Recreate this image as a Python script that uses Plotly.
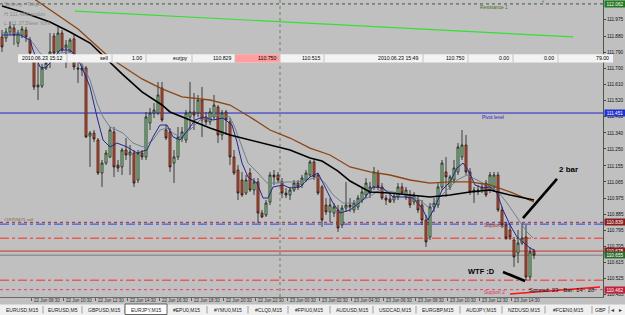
import plotly.graph_objects as go

# ---------------- data (EURJPY M15, 22 Jun 06:30 -> 23 Jun 15:45) ----------------
O = [111.877, 111.871, 111.905, 111.927, 111.843, 111.888, 111.916, 111.860, 111.759, 111.597,
     111.602, 111.703, 111.770, 111.882, 111.793, 111.899, 111.815, 111.793, 111.866, 111.703,
     111.703, 111.703, 111.322, 111.339, 111.300, 111.115, 111.171, 111.205, 111.345, 111.160,
     111.149, 111.244, 111.216, 111.227, 111.076, 111.227, 111.205, 111.395, 111.451, 111.451,
     111.591, 111.356, 111.345, 111.171, 111.205, 111.311, 111.300, 111.429, 111.457, 111.451,
     111.524, 111.429, 111.401, 111.429, 111.485, 111.328, 111.457, 111.401, 111.205, 111.132,
     111.076, 111.003, 111.115, 111.020, 111.065, 110.891, 110.880, 110.953, 111.104, 111.104,
     111.065, 111.003, 110.992, 111.020, 111.059, 111.048, 111.076, 111.104, 111.177, 111.104,
     111.037, 110.936, 110.897, 110.891, 110.908, 110.824, 110.919, 110.936, 110.908, 110.925,
     110.964, 110.992, 111.003, 111.037, 111.115, 111.037, 110.975, 110.970, 110.964, 110.981,
     111.037, 110.981, 110.992, 110.953, 110.964, 110.936, 110.852, 110.757, 110.925, 110.936,
     111.037, 111.121, 111.037, 111.076, 111.121, 111.205, 111.272, 111.121, 111.020, 111.009,
     111.020, 111.059, 111.020, 111.031, 111.104, 110.908, 110.824, 110.796, 110.740, 110.667,
     110.723, 110.757, 110.533, 110.678]
H = [111.916, 111.927, 111.961, 111.950, 111.916, 111.938, 111.933, 111.877, 111.776, 111.731,
     111.726, 111.759, 111.899, 111.899, 111.933, 111.916, 111.860, 111.871, 111.888, 111.748,
     111.726, 111.714, 111.350, 111.356, 111.311, 111.188, 111.244, 111.373, 111.373, 111.188,
     111.255, 111.311, 111.272, 111.244, 111.244, 111.244, 111.457, 111.479, 111.507, 111.625,
     111.625, 111.384, 111.367, 111.244, 111.373, 111.373, 111.468, 111.625, 111.563, 111.552,
     111.597, 111.457, 111.479, 111.552, 111.496, 111.468, 111.468, 111.423, 111.244, 111.160,
     111.121, 111.104, 111.143, 111.087, 111.087, 110.908, 110.964, 111.121, 111.132, 111.121,
     111.087, 111.031, 111.037, 111.076, 111.076, 111.104, 111.132, 111.188, 111.188, 111.115,
     111.048, 110.975, 110.975, 110.947, 110.936, 110.936, 111.065, 110.975, 110.964, 110.992,
     111.031, 111.087, 111.065, 111.149, 111.132, 111.059, 110.992, 111.003, 111.009, 111.059,
     111.059, 111.037, 111.020, 111.009, 110.992, 110.964, 110.880, 110.947, 110.975, 111.059,
     111.188, 111.205, 111.104, 111.188, 111.283, 111.356, 111.328, 111.143, 111.037, 111.048,
     111.059, 111.076, 111.121, 111.121, 111.121, 110.925, 110.841, 110.824, 110.757, 110.796,
     110.835, 110.824, 110.701, 110.690]
L = [111.793, 111.849, 111.888, 111.832, 111.821, 111.871, 111.849, 111.770, 111.580, 111.524,
     111.591, 111.692, 111.703, 111.765, 111.787, 111.793, 111.703, 111.787, 111.692, 111.619,
     111.658, 111.311, 111.149, 111.289, 111.104, 111.037, 111.160, 111.199, 111.093, 111.121,
     111.104, 111.188, 111.104, 111.037, 111.059, 111.188, 111.188, 111.356, 111.423, 111.440,
     111.401, 111.300, 111.121, 111.059, 111.188, 111.289, 111.283, 111.356, 111.356, 111.429,
     111.317, 111.384, 111.384, 111.412, 111.283, 111.300, 111.328, 111.160, 111.104, 110.964,
     110.981, 110.992, 111.009, 110.992, 110.835, 110.863, 110.869, 110.936, 111.048, 111.059,
     110.975, 110.975, 110.964, 111.009, 111.020, 111.031, 111.065, 111.093, 111.076, 110.992,
     110.813, 110.880, 110.841, 110.869, 110.785, 110.807, 110.897, 110.897, 110.891, 110.908,
     110.947, 110.975, 110.975, 111.020, 111.020, 110.964, 110.936, 110.947, 110.947, 110.964,
     110.992, 110.964, 110.919, 110.936, 110.891, 110.824, 110.701, 110.740, 110.897, 110.919,
     111.020, 110.981, 111.020, 111.059, 111.104, 111.188, 111.104, 110.992, 110.947, 110.992,
     111.003, 110.981, 111.003, 111.009, 110.897, 110.807, 110.740, 110.740, 110.589, 110.611,
     110.712, 110.516, 110.516, 110.634]
C = [111.821, 111.905, 111.933, 111.888, 111.899, 111.922, 111.877, 111.787, 111.597, 111.608,
     111.703, 111.731, 111.793, 111.787, 111.899, 111.804, 111.832, 111.860, 111.709, 111.698,
     111.692, 111.317, 111.339, 111.306, 111.115, 111.171, 111.227, 111.356, 111.149, 111.143,
     111.244, 111.216, 111.233, 111.059, 111.227, 111.205, 111.429, 111.451, 111.468, 111.552,
     111.412, 111.311, 111.149, 111.205, 111.317, 111.345, 111.451, 111.457, 111.440, 111.524,
     111.412, 111.401, 111.457, 111.496, 111.328, 111.451, 111.412, 111.205, 111.115, 111.003,
     110.992, 111.076, 111.020, 111.065, 110.891, 110.869, 110.947, 111.104, 111.093, 111.076,
     111.003, 110.992, 111.020, 111.059, 111.037, 111.087, 111.115, 111.177, 111.093, 111.003,
     110.852, 110.897, 110.936, 110.925, 110.807, 110.919, 110.936, 110.925, 110.947, 110.975,
     111.009, 111.059, 111.037, 111.121, 111.037, 110.975, 110.964, 110.953, 110.986, 111.037,
     111.003, 111.020, 110.936, 110.992, 110.908, 110.852, 110.729, 110.925, 110.947, 111.037,
     111.171, 111.093, 111.093, 111.143, 111.261, 111.272, 111.121, 111.009, 111.009, 111.020,
     111.037, 110.992, 111.104, 111.104, 110.908, 110.824, 110.751, 110.757, 110.645, 110.723,
     110.751, 110.533, 110.673, 110.655]
BAR = list(range(len(C)))

# moving averages (bar position, price)
MA_SLOW_X = [0, 5, 12, 17, 22, 25, 30, 35, 40, 42, 47, 52, 57, 62, 67, 72, 77, 80, 84, 87,
             92, 97, 102, 107, 112, 117, 122, 127, 133]
MA_SLOW_Y = [112.050, 112.017, 111.961, 111.905, 111.843, 111.776, 111.670, 111.569, 111.496, 111.457,
             111.412, 111.367, 111.328, 111.300, 111.272, 111.244, 111.199, 111.182, 111.126, 111.070,
             111.009, 111.003, 110.992, 110.981, 110.992, 111.009, 111.020, 110.992, 110.964]
MA_BROWN_X = [7, 12, 19, 27, 35, 40, 45, 52, 57, 62, 67, 72, 77, 82, 87, 92, 97, 102, 107, 112,
              117, 122, 127, 133]
MA_BROWN_Y = [112.106, 112.028, 111.922, 111.759, 111.642, 111.586, 111.541, 111.524, 111.496, 111.429,
              111.356, 111.311, 111.255, 111.216, 111.149, 111.121, 111.104, 111.076, 111.059, 111.065,
              111.065, 111.048, 111.009, 110.953]
MA_FAST_X = [0, 4.5, 7, 7.75, 9.5, 10.75, 12, 14.5, 17, 18.75, 20.25, 22, 23.75, 25.25, 27, 28.75,
             31.25, 33.75, 36.25, 37.75, 39.5, 41.25, 42.75, 44.5, 46.5, 48.25, 50.25, 52.75, 55.25,
             57.5, 58.75, 60, 61.5, 63.75, 65.25, 66.5, 67.75, 70.25, 72, 74.5, 77, 79, 80.75, 82.75,
             84.5, 87, 90.25, 92.75, 95.25, 97.75, 100.25, 102.75, 105, 106.5, 108.25, 110, 112,
             113.75, 115.25, 116.5, 118.25, 120.25, 122, 123.75, 125.25, 127, 128.75, 130.25, 132, 133]
MA_FAST_Y = [111.888, 111.888, 111.860, 111.804, 111.709, 111.703, 111.731, 111.804, 111.804, 111.765,
             111.692, 111.597, 111.429, 111.300, 111.261, 111.283, 111.261, 111.227, 111.244, 111.317,
             111.384, 111.384, 111.317, 111.300, 111.356, 111.412, 111.429, 111.412, 111.423, 111.384,
             111.289, 111.171, 111.093, 111.059, 110.975, 110.975, 111.037, 111.048, 111.031, 111.037,
             111.093, 111.115, 111.037, 110.947, 110.891, 110.908, 110.964, 111.037, 111.031, 110.981,
             110.981, 110.975, 110.919, 110.852, 110.925, 111.020, 111.065, 111.143, 111.171, 111.132,
             111.048, 111.031, 111.037, 111.003, 110.908, 110.824, 110.757, 110.729, 110.695, 110.684]
MA_MID_X = [0, 4.5, 7.75, 9.5, 12, 14.5, 17, 19.5, 22, 23.75, 25.25, 27, 30.25, 32.75, 35.25, 37.75,
            39.5, 41.25, 42.75, 44.5, 47, 49.5, 52, 54.5, 57, 58.25, 60, 61.5, 63.75, 66.25, 68.75,
            71.25, 73.75, 76.25, 78.75, 80.75, 82.75, 85.25, 87.75, 91.25, 94.5, 97.75, 101.25,
            104.5, 106.5, 108.75, 111.25, 113.75, 116.25, 118.75, 121.25, 123.75, 126.25, 128.75,
            131.25, 132.75]
MA_MID_Y = [111.899, 111.899, 111.843, 111.787, 111.748, 111.787, 111.793, 111.748, 111.636, 111.507,
            111.429, 111.373, 111.339, 111.283, 111.261, 111.300, 111.356, 111.367, 111.339, 111.317,
            111.356, 111.412, 111.429, 111.440, 111.429, 111.367, 111.261, 111.171, 111.121, 111.059,
            111.059, 111.065, 111.065, 111.076, 111.093, 111.059, 110.992, 110.947, 110.947, 110.975,
            111.020, 111.009, 110.992, 110.964, 110.925, 110.964, 111.020, 111.076, 111.104, 111.076,
            111.048, 111.020, 110.947, 110.869, 110.785, 110.751]

# levels
RESISTANCE_1 = 112.062
PIVOT = 111.451
SUPPORT_1 = 110.839
SUPPORT_2 = 110.462
ORDER_OPEN = 110.829
STOP_LOSS = 110.750
TAKE_PROFIT = 110.515
BID = 110.655
ASK = 110.678
TREND_X = [18.25, 142.75]
TREND_Y = [112.022, 111.877]
NOTE_2BAR_X = [130.25, 138.75]
NOTE_2BAR_Y = [110.863, 111.082]
NOTE_WTF_X = [125.25, 130.75]
NOTE_WTF_Y = [110.561, 110.510]
RED_LINE_X = [127, 149.5]
RED_LINE_Y = [110.438, 110.477]
SEPARATOR_BAR = 69.5

PRICE_TICKS = [111.975, 111.880, 111.790, 111.700, 111.610, 111.520, 111.430, 111.340, 111.250,
               111.155, 111.065, 110.975, 110.885, 110.795, 110.705, 110.615, 110.525, 110.435]
TIME_LABELS = ["22 Jun 2010", "22 Jun 08:30", "22 Jun 10:30", "22 Jun 12:30", "22 Jun 14:30",
               "22 Jun 16:30", "22 Jun 18:30", "22 Jun 20:30", "22 Jun 22:30", "23 Jun 00:30",
               "23 Jun 02:30", "23 Jun 04:30", "23 Jun 06:30", "23 Jun 08:30", "23 Jun 10:30",
               "23 Jun 12:30", "23 Jun 14:30"]
ORDER_CELLS = ["2010.06.23 15:12", "sell", "1.00", "eurjpy", "110.829", "110.750", "110.515",
               "2010.06.23 15:49", "110.750", "0.00", "0.00", "79.00"]
TABS = ["EURUSD,M15", "EURUSD,M5", "GBPUSD,M15", "EURJPY,M15", "#EPU0,M15", "#YMU0,M15",
        "#CLQ0,M15", "#FPIU0,M15", "AUDUSD,M15", "USDCAD,M15", "EURGBP,M15", "AUDJPY,M15",
        "NZDUSD,M15", "#FCEN0,M15", "GBP"]

# ---------------- geometry helpers (pixels -> paper) ----------------
PW, PH = 603.0, 297.0
def px(x):
    return x / PW
def py(y):
    return 1 - y / PH

FONT = "Liberation Sans, Arial, sans-serif"
BG = "#c0c0c0"

fig = go.Figure()
fig.add_trace(go.Candlestick(
    x=BAR, open=O, high=H, low=L, close=C,
    increasing=dict(line=dict(color="#1a1a1a", width=0.8), fillcolor="#90ee90"),
    decreasing=dict(line=dict(color="#1a1a1a", width=0.8), fillcolor="#ff4a1a"),
    whiskerwidth=0, hoverinfo="skip", showlegend=False))

fig.add_trace(go.Scatter(x=MA_MID_X, y=MA_MID_Y, mode="lines",
                         line=dict(color="#6f8090", width=1), hoverinfo="skip"))
fig.add_trace(go.Scatter(x=MA_FAST_X, y=MA_FAST_Y, mode="lines",
                         line=dict(color="#25258f", width=1), hoverinfo="skip"))
fig.add_trace(go.Scatter(x=MA_BROWN_X, y=MA_BROWN_Y, mode="lines",
                         line=dict(color="#8b4513", width=1.3), hoverinfo="skip"))
fig.add_trace(go.Scatter(x=MA_SLOW_X, y=MA_SLOW_Y, mode="lines",
                         line=dict(color="#000000", width=1.6), hoverinfo="skip"))
fig.add_trace(go.Scatter(x=TREND_X, y=TREND_Y, mode="lines",
                         line=dict(color="#33e033", width=1.2), hoverinfo="skip"))
fig.add_trace(go.Scatter(x=NOTE_2BAR_X, y=NOTE_2BAR_Y, mode="lines",
                         line=dict(color="#000000", width=2.6), hoverinfo="skip"))
fig.add_trace(go.Scatter(x=NOTE_WTF_X, y=NOTE_WTF_Y, mode="lines",
                         line=dict(color="#000000", width=2.6), hoverinfo="skip"))
fig.add_trace(go.Scatter(x=RED_LINE_X, y=RED_LINE_Y, mode="lines",
                         line=dict(color="#ff1010", width=1.5), hoverinfo="skip"))

shapes = []
def hline(price, color, dash, width=1):
    shapes.append(dict(type="line", xref="paper", x0=0, x1=1, yref="y", y0=price, y1=price,
                       line=dict(color=color, width=width, dash=dash), layer="below"))

hline(RESISTANCE_1, "#3a5a3a", "dot")
hline(PIVOT, "#2222cc", "solid")
hline(SUPPORT_1, "#a02828", "dot")
hline(ORDER_OPEN, "#2a3cff", "dashdot")
hline(STOP_LOSS, "#ff2a2a", "dashdot")
hline(ASK, "#d03030", "solid")
hline(BID, "#7c7c7c", "solid")
hline(TAKE_PROFIT, "#ff2a2a", "dashdot")
hline(SUPPORT_2, "#e8406a", "dot")
shapes.append(dict(type="line", xref="x", x0=SEPARATOR_BAR, x1=SEPARATOR_BAR, yref="paper",
                   y0=0, y1=1, line=dict(color="#6e7e5e", width=1, dash="dot"), layer="below"))

ann = []
def text(x, y, s, size=5, color="#000000", xanchor="left", bold=False, **kw):
    ann.append(dict(xref="paper", yref="paper", x=px(x), y=py(y), text=("<b>%s</b>" % s) if bold else s,
                    showarrow=False, xanchor=xanchor, yanchor="middle",
                    font=dict(family=FONT, size=size, color=color), **kw))

# order row
cell_edges = [18, 67, 112, 146, 192, 235, 280, 324, 423, 468, 513, 558, 613]
shapes.append(dict(type="rect", xref="paper", yref="paper", x0=px(18), x1=px(613), y0=py(54.3),
                   y1=py(62.5), fillcolor="#f3f3f3", line=dict(width=0)))
shapes.append(dict(type="rect", xref="paper", yref="paper", x0=px(235), x1=px(280), y0=py(54.3),
                   y1=py(62.5), fillcolor="#ff9e9e", line=dict(width=0)))
for e in cell_edges[1:-1]:
    shapes.append(dict(type="line", xref="paper", yref="paper", x0=px(e), x1=px(e), y0=py(54.3),
                       y1=py(62.5), line=dict(color="#c4c4c4", width=1)))
for i, s in enumerate(ORDER_CELLS):
    text(cell_edges[i + 1] - 2, 58.4, s, size=5.2, xanchor="right")

# level labels
text(478, 7, "Resistance 1", 4.8, "#4c6a2c")
text(480, 117, "Pivot level", 4.8, "#2222cc")
text(482, 225.5, "Support 1", 4.8, "#a03030")
text(482, 292.5, "Support 2", 4.8, "#e03060")
text(2, 219.5, "#19759471 sell", 4.3, "#6a6a3a")

# session labels
for yy, a, b in [(4.5, "Sydney", "Tokyo"), (14, "H 111.486", "London"), (22.5, "L 111.372", "New York")]:
    text(2, yy, a, 5.5, "#8c8c8c")
    text(25, yy, b, 5.5, "#8c8c8c")

# user notes
text(568, 169, "2 bar", 8, "#000000", xanchor="center", bold=True)
text(481, 271, "WTF :D", 7.5, "#000000", xanchor="center", bold=True)
text(527, 290, "Spread: 23   Bar: 14 : 28", 6, "#1a1a1a")
text(543, 2, "\u25bc", 4, "#7080a0", xanchor="center")

# right axis highlighted prices
for price, lab, bg in [(RESISTANCE_1, "112.062", "#1f7a1f"), (PIVOT, "111.451", "#1f32d0"),
                       (SUPPORT_1, "110.839", "#8a1c1c"), (ASK, "110.678", "#8a1c1c"),
                       (BID, "110.655", "#2e6a2e"), (SUPPORT_2, "110.462", "#c0203a")]:
    ann.append(dict(xref="paper", yref="y", x=1, y=price, xshift=1, text=lab, showarrow=False,
                    xanchor="left", yanchor="middle", bgcolor=bg, borderpad=0.5, width=19,
                    font=dict(family=FONT, size=4.7, color="#ffffff")))

# time labels
for k, lab in enumerate(TIME_LABELS):
    ann.append(dict(xref="x", yref="paper", x=8 * k - 0.6, y=py(300.5), text=lab, showarrow=False,
                    xanchor="left", yanchor="middle", font=dict(family=FONT, size=4.45, color="#303030")))

# tab bar
shapes.append(dict(type="rect", xref="paper", yref="paper", x0=0, x1=px(625), y0=py(304.5),
                   y1=py(315), fillcolor="#f0f0f0", line=dict(width=0)))
tab_edges = [0, 43, 82, 125, 167, 207, 248, 288, 330, 373, 416, 460, 502, 545, 592, 609]
for i, t in enumerate(TABS):
    x0, x1 = tab_edges[i], tab_edges[i + 1]
    if t == "EURJPY,M15":
        shapes.append(dict(type="rect", xref="paper", yref="paper", x0=px(x0), x1=px(x1), y0=py(304),
                           y1=py(314.5), fillcolor="#ffffff", line=dict(color="#404040", width=0.8)))
    else:
        shapes.append(dict(type="line", xref="paper", yref="paper", x0=px(x1), x1=px(x1), y0=py(306),
                           y1=py(313.5), line=dict(color="#8a8a8a", width=0.8)))
    text((x0 + x1) / 2, 309.5, t, 5.0, "#202020", xanchor="center")
text(612, 309.5, "\u25c2", 5.5, "#303030", xanchor="center")
text(620, 309.5, "\u25b8", 5.5, "#303030", xanchor="center")

fig.update_layout(
    width=625, height=315, margin=dict(l=0, r=22, t=0, b=18),
    paper_bgcolor=BG, plot_bgcolor=BG, showlegend=False,
    shapes=shapes, annotations=ann,
    xaxis=dict(range=[-0.5, 150.25], showgrid=False, zeroline=False,
               rangeslider=dict(visible=False), tickvals=[8 * k - 0.6 for k in range(len(TIME_LABELS))],
               ticks="outside", ticklen=3, tickcolor="#606060", showticklabels=False,
               showline=True, linecolor="#6a6a6a", linewidth=1),
    yaxis=dict(side="right", range=[110.4208, 112.084], showgrid=False, zeroline=False,
               tickvals=PRICE_TICKS, ticktext=["%.3f" % v for v in PRICE_TICKS],
               ticks="outside", ticklen=2, tickcolor="#404040",
               tickfont=dict(family=FONT, size=4.7, color="#101010"),
               showline=True, linecolor="#4a5a4a", linewidth=1),
)
fig.write_html("out.html")
